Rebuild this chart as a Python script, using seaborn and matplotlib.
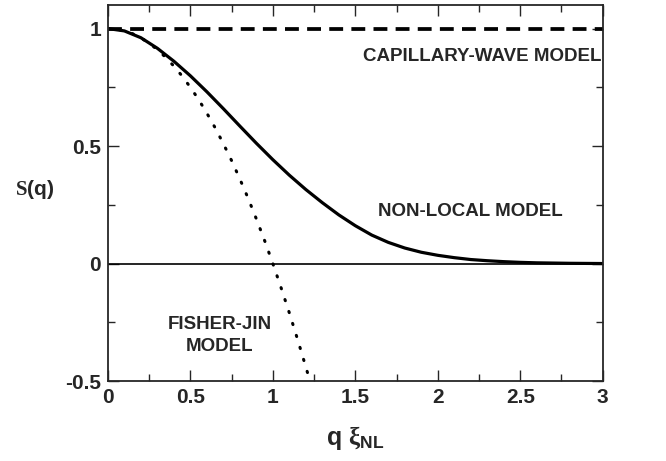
import numpy as np
import pandas as pd
import matplotlib
matplotlib.use("Agg")
import matplotlib.pyplot as plt
import seaborn as sns
from matplotlib.ticker import MultipleLocator

# non-local model
nonlocal_q = [0.0, 0.1, 0.2, 0.3, 0.4, 0.5, 0.6, 0.7, 0.8, 0.9, 1.0,
              1.1, 1.2, 1.3, 1.4, 1.5, 1.6, 1.7, 1.8, 1.9, 2.0,
              2.1, 2.2, 2.3, 2.4, 2.5, 2.6, 2.7, 2.8, 2.9, 3.0]
nonlocal_s = [1.000, 0.990, 0.961, 0.916, 0.861, 0.799, 0.731, 0.659, 0.585, 0.512, 0.442,
              0.376, 0.315, 0.259, 0.207, 0.161, 0.121, 0.090, 0.066, 0.048, 0.035,
              0.025, 0.017, 0.012, 0.008, 0.005, 0.003, 0.002, 0.001, 0.0005, 0.000]

# Fisher-Jin model (dotted)
fj_q = [0.0, 0.05, 0.1, 0.15, 0.2, 0.25, 0.3, 0.35, 0.4, 0.45, 0.5, 0.55, 0.6,
        0.65, 0.7, 0.75, 0.8, 0.85, 0.9, 0.95, 1.0, 1.05, 1.1, 1.15, 1.2, 1.225]
fj_s = [1.0, 0.998, 0.99, 0.978, 0.96, 0.938, 0.91, 0.878, 0.84, 0.798, 0.75, 0.698, 0.64,
        0.578, 0.51, 0.438, 0.36, 0.278, 0.19, 0.098, 0.0, -0.103, -0.21, -0.323, -0.44, -0.5]

# capillary-wave model (dashed)
cw_q = [0.0, 3.0]
cw_s = [1.0, 1.0]

sns.set_style("ticks")
plt.rcParams["font.family"] = ["Liberation Sans", "DejaVu Sans"]
plt.rcParams["font.weight"] = "bold"
plt.rcParams["mathtext.fontset"] = "custom"
plt.rcParams["mathtext.rm"] = "Liberation Serif"
plt.rcParams["mathtext.sf"] = "Liberation Sans:bold"
plt.rcParams["mathtext.it"] = "Liberation Serif:italic"

fig = plt.figure(figsize=(6.66, 4.61), dpi=100)
ax = fig.add_axes([0.162, 0.1735, 0.743, 0.8155])

ax.axhline(0, color="black", linewidth=1.2, zorder=1)
sns.lineplot(x=cw_q, y=cw_s, ax=ax, color="black", linewidth=2.7,
             linestyle=(0, (3.7, 2.2)), sort=False)
sns.lineplot(x=fj_q, y=fj_s, ax=ax, color="black", linewidth=2.2,
             linestyle=(0, (0.4, 3.7)), sort=False, dash_capstyle="round")
sns.lineplot(x=nonlocal_q, y=nonlocal_s, ax=ax, color="black", linewidth=2.3, sort=False)

ax.set_xlim(0, 3)
ax.set_ylim(-0.5, 1.1)
ax.xaxis.set_major_locator(MultipleLocator(0.5))
ax.xaxis.set_minor_locator(MultipleLocator(0.25))
ax.yaxis.set_major_locator(MultipleLocator(0.5))
ax.yaxis.set_minor_locator(MultipleLocator(0.25))
ax.xaxis.set_major_formatter(plt.FuncFormatter(lambda v, p: f"{v:g}"))
ax.yaxis.set_major_formatter(plt.FuncFormatter(lambda v, p: f"{v:g}"))
ax.tick_params(which="both", direction="in", top=True, right=True, width=1)
ax.tick_params(which="major", length=8, labelsize=15, pad=5)
ax.tick_params(which="minor", length=5)
for s in ax.spines.values():
    s.set_linewidth(1.3)

ax.set_xlabel(r"q $\mathrm{\xi}_{\mathsf{NL}}$", fontsize=18, fontweight="bold", labelpad=12)
ax.set_ylabel(r"$\mathrm{S}$(q)", fontsize=15, fontweight="bold", rotation=0)
ax.yaxis.set_label_coords(-0.148, 0.48)

ax.text(2.27, 0.88, "CAPILLARY-WAVE MODEL", ha="center", va="center", fontsize=13.5, fontweight="bold")
ax.text(2.2, 0.22, "NON-LOCAL MODEL", ha="center", va="center", fontsize=13.5, fontweight="bold")
ax.text(0.68, -0.306, "FISHER-JIN\nMODEL", ha="center", va="center", fontsize=13.5,
        fontweight="bold", linespacing=1.45)

fig.savefig("out.png", dpi=100)
